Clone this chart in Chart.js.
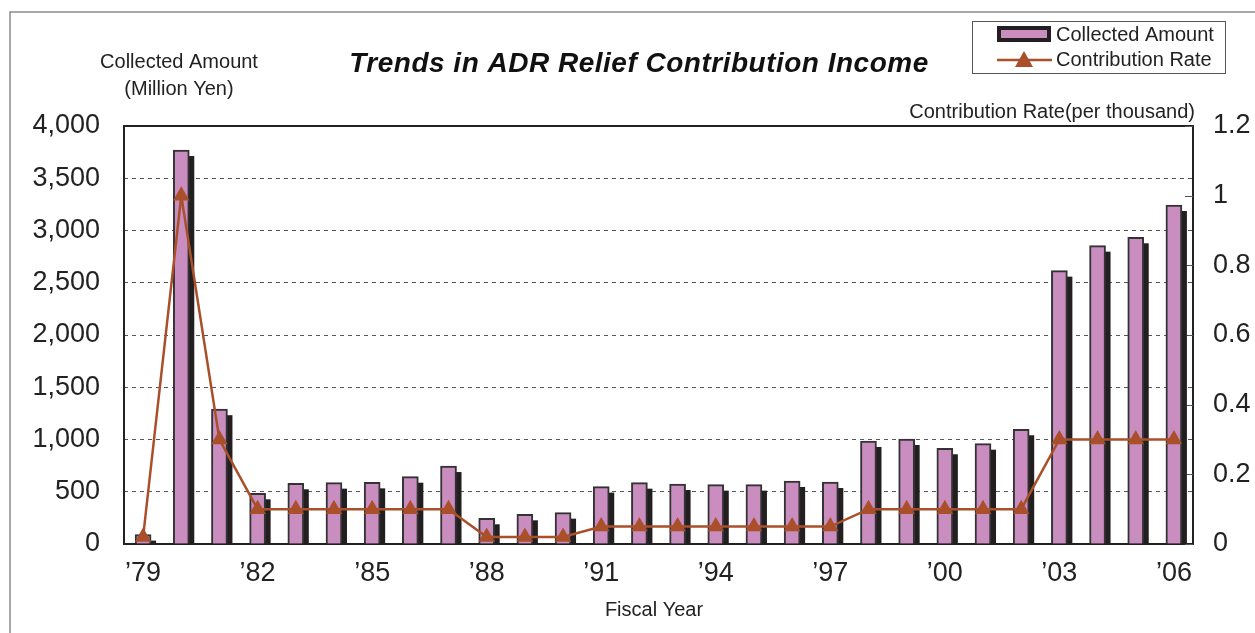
<!DOCTYPE html>
<html>
<head>
<meta charset="utf-8">
<title>Trends in ADR Relief Contribution Income</title>
<script src="https://cdn.jsdelivr.net/npm/chart.js@4/dist/chart.umd.min.js"></script>
<style>
  html, body { margin: 0; padding: 0; background: #ffffff; }
  #wrap { position: relative; width: 1255px; height: 633px; }
</style>
</head>
<body>
<div id="wrap"><canvas id="chart" width="1255" height="633"></canvas></div>
<script>
// Fiscal years 1979 - 2006
const categories = [
  '1979','1980','1981','1982','1983','1984','1985','1986','1987','1988',
  '1989','1990','1991','1992','1993','1994','1995','1996','1997','1998',
  '1999','2000','2001','2002','2003','2004','2005','2006'
];

// Collected amount (million yen)
const collectedAmount = [
  90, 3770, 1290, 485, 581, 587, 590, 644, 746, 246,
  284, 300, 549, 587, 574, 568, 568, 603, 593, 986,
  1005, 916, 960, 1098, 2616, 2855, 2935, 3244
];

// Contribution rate (per thousand)
const contributionRate = [
  0.02, 1.0, 0.3, 0.1, 0.1, 0.1, 0.1, 0.1, 0.1, 0.02,
  0.02, 0.02, 0.05, 0.05, 0.05, 0.05, 0.05, 0.05, 0.05, 0.1,
  0.1, 0.1, 0.1, 0.1, 0.3, 0.3, 0.3, 0.3
];

// Year labels shown under the axis (every third year)
const xTickLabels = ['\u201979','\u201982','\u201985','\u201988','\u201991','\u201994','\u201997','\u201900','\u201903','\u201906'];
const leftTicks = [0, 500, 1000, 1500, 2000, 2500, 3000, 3500, 4000];
const rightTicks = [0, 0.2, 0.4, 0.6, 0.8, 1.0, 1.2];

const BAR_FILL = '#c98dc0';
const BAR_EDGE = '#333333';
const SHADOW = '#231f20';
const LINE = '#a9502b';
const TEXT_FONT = '"Liberation Sans", Arial, sans-serif';
const NUM_FONT = '"Liberation Sans", Arial, sans-serif';

// Offset dark block behind each bar
const barShadow = {
  id: 'barShadow',
  beforeDatasetDraw(chart, args) {
    if (args.index !== 0) return;
    const ctx = chart.ctx;
    const base = chart.scales.y.getPixelForValue(0);
    ctx.save();
    ctx.fillStyle = SHADOW;
    args.meta.data.forEach(el => {
      const p = el.getProps(['x', 'y', 'width'], true);
      const top = p.y + 6;
      if (top < base) ctx.fillRect(p.x - p.width / 2 + 5, top, p.width, base - top);
    });
    ctx.restore();
  }
};

// Frame, titles, plot border, right-axis ticks and legend
const decorations = {
  id: 'decorations',
  beforeDraw(chart) {
    const ctx = chart.ctx;
    ctx.save();
    ctx.strokeStyle = '#8a8a8a';
    ctx.lineWidth = 1.5;
    ctx.beginPath();
    ctx.moveTo(10, 633);
    ctx.lineTo(10, 12);
    ctx.lineTo(1255, 12);
    ctx.stroke();
    ctx.restore();
  },
  beforeDatasetsDraw(chart) {
    const ctx = chart.ctx;
    const a = chart.chartArea;
    ctx.save();
    ctx.strokeStyle = '#222222';
    ctx.lineWidth = 2;
    ctx.strokeRect(a.left, a.top, a.right - a.left, a.bottom - a.top);
    // short inward ticks on the right axis
    const y1 = chart.scales.y1;
    ctx.lineWidth = 1;
    ctx.strokeStyle = '#555555';
    rightTicks.forEach(v => {
      const py = Math.round(y1.getPixelForValue(v)) + 0.5;
      ctx.beginPath();
      ctx.moveTo(a.right - 8, py);
      ctx.lineTo(a.right, py);
      ctx.stroke();
    });
    ctx.restore();
  },
  afterDraw(chart) {
    const ctx = chart.ctx;
    ctx.save();
    ctx.fillStyle = '#111111';
    ctx.textBaseline = 'middle';

    ctx.font = 'italic bold 28px ' + TEXT_FONT;
    ctx.textAlign = 'center';
    ctx.letterSpacing = '0.5px';
    ctx.fillText('Trends in ADR Relief Contribution Income', 639, 64);
    ctx.letterSpacing = '0px';

    ctx.font = '20px ' + TEXT_FONT;
    ctx.fillStyle = '#222222';
    ctx.fillText('Collected Amount', 179, 62);
    ctx.fillText('(Million Yen)', 179, 89);
    ctx.fillText('Fiscal Year', 654, 610);
    ctx.textAlign = 'right';
    ctx.fillText('Contribution Rate(per thousand)', 1195, 112);

    // legend box
    ctx.strokeStyle = '#555555';
    ctx.lineWidth = 1;
    ctx.fillStyle = '#ffffff';
    ctx.fillRect(972.5, 21.5, 253, 52);
    ctx.strokeRect(972.5, 21.5, 253, 52);

    ctx.fillStyle = '#231f20';
    ctx.fillRect(997, 26, 54, 16);
    ctx.fillStyle = BAR_FILL;
    ctx.fillRect(1001, 30, 46, 8);

    ctx.strokeStyle = LINE;
    ctx.lineWidth = 2.5;
    ctx.beginPath();
    ctx.moveTo(997, 60);
    ctx.lineTo(1052, 60);
    ctx.stroke();
    ctx.fillStyle = LINE;
    ctx.beginPath();
    ctx.moveTo(1024, 51);
    ctx.lineTo(1033, 67);
    ctx.lineTo(1015, 67);
    ctx.closePath();
    ctx.fill();

    ctx.fillStyle = '#222222';
    ctx.textAlign = 'left';
    ctx.font = '20px ' + TEXT_FONT;
    ctx.fillText('Collected Amount', 1056, 35);
    ctx.fillText('Contribution Rate', 1056, 60);
    ctx.restore();
  }
};

new Chart(document.getElementById('chart'), {
  type: 'bar',
  data: {
    labels: categories,
    datasets: [
      {
        type: 'bar',
        label: 'Collected Amount',
        data: collectedAmount,
        yAxisID: 'y',
        backgroundColor: BAR_FILL,
        borderColor: BAR_EDGE,
        borderWidth: 2,
        barThickness: 16,
        order: 2
      },
      {
        type: 'line',
        label: 'Contribution Rate',
        data: contributionRate,
        yAxisID: 'y1',
        borderColor: LINE,
        backgroundColor: LINE,
        borderWidth: 2.5,
        pointStyle: 'triangle',
        pointRadius: 9.5,
        pointBorderWidth: 0,
        tension: 0,
        order: 1
      }
    ]
  },
  options: {
    responsive: false,
    animation: false,
    layout: { padding: { top: 126, left: 0, right: 0, bottom: 0 } },
    plugins: {
      legend: { display: false },
      title: { display: false },
      tooltip: { enabled: false }
    },
    scales: {
      x: {
        grid: { display: false, drawTicks: false },
        border: { display: false },
        afterFit(scale) { scale.height = 89; },
        ticks: {
          autoSkip: false,
          maxRotation: 0,
          padding: 13,
          color: '#222222',
          font: { family: NUM_FONT, size: 27 },
          callback(value, index) {
            return index % 3 === 0 ? xTickLabels[index / 3] : '';
          }
        }
      },
      y: {
        position: 'left',
        min: 0,
        max: 4000,
        afterFit(scale) { scale.width = 124; },
        afterBuildTicks(scale) { scale.ticks = leftTicks.map(v => ({ value: v })); },
        grid: {
          drawTicks: false,
          color: ctx => (ctx.tick.value === 0 || ctx.tick.value === 4000) ? 'rgba(0,0,0,0)' : '#555555',
          lineWidth: 1
        },
        border: { display: false, dash: [4, 4] },
        ticks: {
          padding: 24,
          color: '#222222',
          font: { family: NUM_FONT, size: 27 },
          callback(value) { return value.toLocaleString('en-US'); }
        }
      },
      y1: {
        position: 'right',
        min: 0,
        max: 1.2,
        afterFit(scale) { scale.width = 62; },
        afterBuildTicks(scale) { scale.ticks = rightTicks.map(v => ({ value: v })); },
        grid: { drawOnChartArea: false, drawTicks: false },
        border: { display: false },
        ticks: {
          padding: 20,
          color: '#222222',
          font: { family: NUM_FONT, size: 27 },
          callback(value) { return String(Math.round(value * 10) / 10); }
        }
      }
    }
  },
  plugins: [barShadow, decorations]
});
</script>
</body>
</html>
